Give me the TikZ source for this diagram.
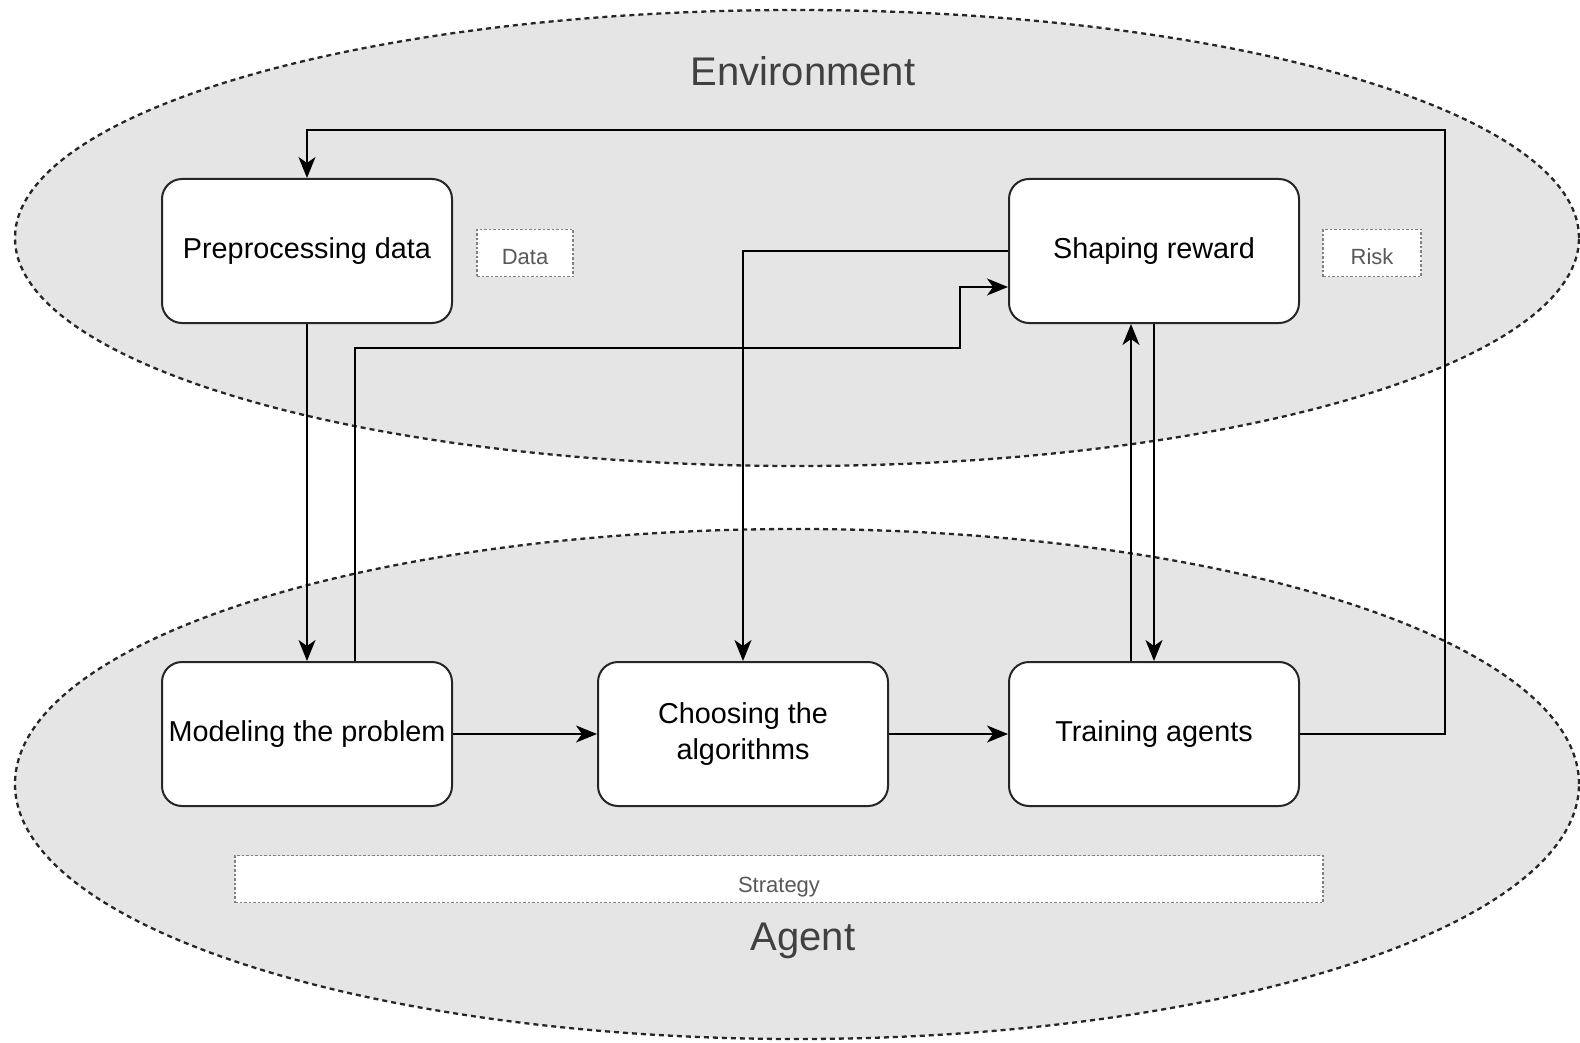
\documentclass[tikz,border=0pt]{standalone}
\usepackage{fontspec}
\setmainfont{Liberation Sans}
\usetikzlibrary{arrows.meta}
\begin{document}
\begin{tikzpicture}[x=1pt,y=-1pt,
  region/.style={fill=gray!20, draw=black!85, line width=2.3pt, dash pattern=on 5pt off 4pt},
  stepbox/.style={draw=black!85, fill=white, line width=2pt, rounded corners=20pt,
    minimum width=290pt, minimum height=144pt, align=center, inner sep=2pt,
    font=\fontsize{28.8}{36}\selectfont},
  tagbox/.style={draw=gray, fill=white, line width=1.2pt, dash pattern=on 2.5pt off 2pt,
    minimum height=47pt, text=black!65, font=\fontsize{22}{26}\selectfont, inner sep=0pt,
    text height=23pt, text depth=0pt},
  title/.style={text=black!75, font=\fontsize{40}{48}\selectfont},
  conn/.style={line width=2pt, draw=black},
  arr/.style={conn, -{Stealth[length=21pt,width=17pt,inset=6pt]}}]
\useasboundingbox (0,0) rectangle (1580,1043);
\fill[white] (0,0) rectangle (1580,1043);
% regions
\draw[region] (797,238) ellipse [x radius=782pt, y radius=228pt];
\draw[region] (797,784) ellipse [x radius=782pt, y radius=255pt];
\node[title] (env) at (803,71) {Environment};
\node[title] (agent) at (803,941) {Agent};
% steps
\node[stepbox] (pre) at (307,251) {Preprocessing data};
\node[stepbox] (shape) at (1154,251) {Shaping reward};
\node[stepbox] (model) at (307,734) {Modeling the problem};
\node[stepbox] (choose) at (743,734) {Choosing the\\algorithms};
\node[stepbox] (train) at (1154,734) {Training agents};
% tags
\node[tagbox, minimum width=96pt] (data) at (525,253) {Data};
\node[tagbox, minimum width=98pt] (risk) at (1372,253) {Risk};
\node[tagbox, minimum width=1088pt, text height=26pt] (strat) at (779,879) {Strategy};
% connectors
\coordinate (c1) at (1445,130);
\coordinate (c2) at (307,130);
\draw[arr] (train.east) -| (c1) -- (c2) -- (pre.north);
\draw[arr] (pre.south) -- (model.north);
\coordinate (m1) at (355,348);
\coordinate (m2) at (960,348);
\coordinate (m3) at (960,287);
\draw[arr] (model.north -| m1) -- (m1) -- (m2) -- (m3) -- (m3 -| shape.west);
\coordinate (s1) at (743,251);
\draw[arr] (shape.west) -- (s1) -- (choose.north);
\draw[arr] (model.east) -- (choose.west);
\draw[arr] (choose.east) -- (train.east -| train.west);
\coordinate (t1) at (1131,0);
\draw[arr] (train.north -| t1) -- (shape.south -| t1);
\draw[arr] (shape.south) -- (train.north);
\end{tikzpicture}
\end{document}
